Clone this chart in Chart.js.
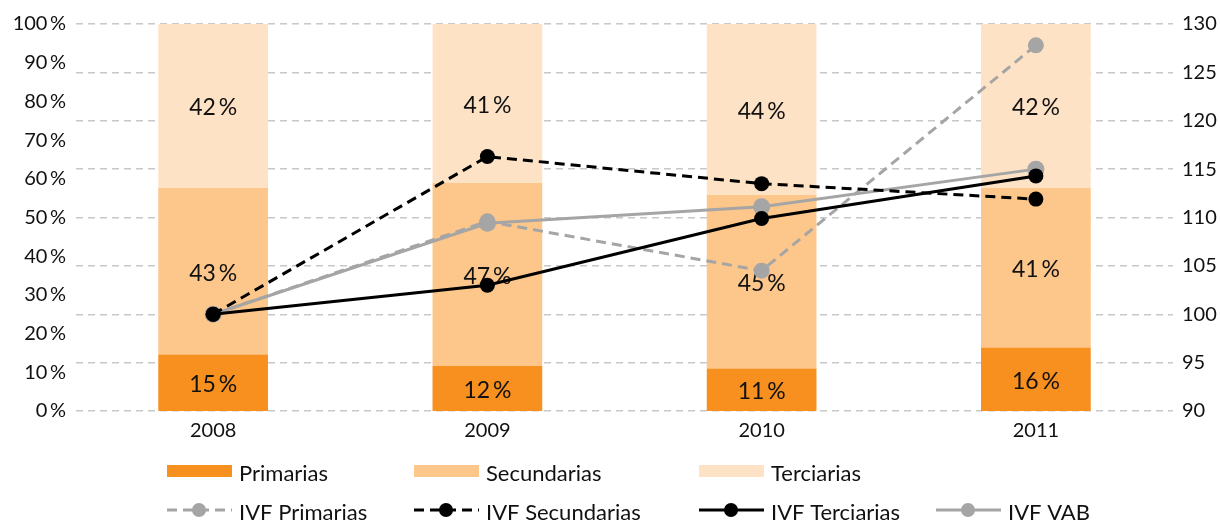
<!DOCTYPE html>
<html>
<head>
<meta charset="utf-8">
<script src="https://cdn.jsdelivr.net/npm/chart.js@4/dist/chart.umd.min.js"></script>
<style>
  html, body { margin: 0; padding: 0; background: #fff; }
  #wrap { width: 1220px; height: 526px; position: relative; }
</style>
</head>
<body>
<div id="wrap"><canvas id="grafico"></canvas></div>
<script>
// datos
const years = ['2008', '2009', '2010', '2011'];
const primarias = [14.6, 11.6, 11.0, 16.4];
const secundarias = [43.0, 47.3, 44.8, 41.2];
const terciarias = [42.4, 41.1, 44.2, 42.4];

const ivfPrimarias = [100, 109.6, 104.5, 127.8];
const ivfSecundarias = [100, 116.3, 113.5, 111.9];
const ivfTerciarias = [100, 103.0, 109.9, 114.3];
const ivfVab = [100, 109.4, 111.1, 115.0];

const pctMin = 0, pctMax = 100, pctStep = 10;
const ivfMin = 90, ivfMax = 130, ivfStep = 5;

const FONT = 'Lato, "Noto Sans", sans-serif';
const TEXT = '#111';
const GREY = '#a5a5a5';

// etiquetas de porcentaje dentro de las barras (debajo de las líneas)
let etiquetasHechas = false;
const etiquetasBarras = {
  id: 'etiquetasBarras',
  beforeDatasetsDraw() { etiquetasHechas = false; },
  beforeDatasetDraw(chart, args) {
    if (etiquetasHechas || chart.data.datasets[args.index].type !== 'line') return;
    etiquetasHechas = true;
    const ctx = chart.ctx;
    ctx.save();
    ctx.font = '23px ' + FONT;
    ctx.fillStyle = TEXT;
    ctx.textAlign = 'center';
    ctx.textBaseline = 'middle';
    chart.data.datasets.forEach((ds, i) => {
      if (ds.type !== 'bar') return;
      chart.getDatasetMeta(i).data.forEach((bar, j) => {
        const p = bar.getProps(['x', 'y', 'base'], true);
        ctx.fillText(Math.round(ds.data[j]) + '\u2009%', p.x, (p.y + p.base) / 2 + 2);
      });
    });
    ctx.restore();
  }
};

// leyenda dibujada en el canvas
const leyenda = {
  id: 'leyenda',
  afterDraw(chart) {
    const ctx = chart.ctx;
    const cols = [167, 414, 699, 936];
    const filas = [471, 510];
    const items = [
      [0, 0, 0], [1, 0, 1], [2, 0, 2],
      [3, 1, 0], [4, 1, 1], [5, 1, 2], [6, 1, 3]
    ];
    ctx.save();
    ctx.font = '22px ' + FONT;
    ctx.textBaseline = 'middle';
    items.forEach(([idx, fila, col]) => {
      const ds = chart.data.datasets[idx];
      const x = cols[col], y = filas[fila];
      if (ds.type === 'bar') {
        ctx.fillStyle = ds.backgroundColor;
        ctx.fillRect(x, y - 6, 65, 12);
      } else {
        ctx.strokeStyle = ds.borderColor;
        ctx.lineWidth = ds.borderWidth;
        ctx.setLineDash(ds.borderDash || []);
        ctx.beginPath();
        ctx.moveTo(x, y);
        ctx.lineTo(x + 65, y);
        ctx.stroke();
        ctx.setLineDash([]);
        ctx.fillStyle = ds.pointBackgroundColor;
        ctx.beginPath();
        ctx.arc(x + 32, y, 7, 0, Math.PI * 2);
        ctx.fill();
      }
      ctx.fillStyle = TEXT;
      ctx.fillText(ds.label, x + 72, y + 3);
    });
    ctx.restore();
  }
};

function lineaIVF(label, data, color, dash, order, radius) {
  return {
    type: 'line',
    label: label,
    data: data,
    yAxisID: 'y1',
    borderColor: color,
    borderWidth: 3,
    borderDash: dash,
    pointRadius: radius,
    pointBackgroundColor: color,
    pointBorderWidth: 0,
    tension: 0,
    order: order
  };
}

new Chart(document.getElementById('grafico'), {
  data: {
    labels: years,
    datasets: [
      { type: 'bar', label: 'Primarias', data: primarias, backgroundColor: '#f7901e', stack: 's', order: 5 },
      { type: 'bar', label: 'Secundarias', data: secundarias, backgroundColor: '#fdc68a', stack: 's', order: 6 },
      { type: 'bar', label: 'Terciarias', data: terciarias, backgroundColor: '#fee2c5', stack: 's', order: 7 },
      lineaIVF('IVF Primarias', ivfPrimarias, GREY, [10, 6], 4, 8),
      lineaIVF('IVF Secundarias', ivfSecundarias, '#000', [10, 6], 2, 7.5),
      lineaIVF('IVF Terciarias', ivfTerciarias, '#000', [], 1, 7.5),
      lineaIVF('IVF VAB', ivfVab, GREY, [], 3, 8.5)
    ]
  },
  options: {
    responsive: true,
    maintainAspectRatio: false,
    animation: false,
    datasets: { bar: { categoryPercentage: 1, barPercentage: 0.4 } },
    layout: { padding: { top: 24, left: 0, right: 0, bottom: 0 } },
    plugins: { legend: { display: false }, tooltip: { enabled: false } },
    scales: {
      x: {
        stacked: true,
        grid: { display: false, drawTicks: false },
        border: { display: false },
        ticks: { color: TEXT, font: { family: FONT, size: 20 }, padding: 8 },
        afterFit(s) { s.height = 115; }
      },
      y: {
        stacked: true,
        position: 'left',
        min: pctMin, max: pctMax,
        grid: { display: false, drawTicks: false },
        border: { display: false },
        ticks: {
          stepSize: pctStep,
          color: TEXT,
          font: { family: FONT, size: 20 },
          padding: 10,
          callback: v => v + '\u2009%'
        },
        afterFit(s) { s.width = 76; }
      },
      y1: {
        position: 'right',
        min: ivfMin, max: ivfMax,
        grid: { color: '#c8c8c8', lineWidth: 1.5, drawTicks: false },
        border: { display: false, dash: [7, 5] },
        ticks: {
          stepSize: ivfStep,
          color: TEXT,
          font: { family: FONT, size: 20 },
          padding: 9,
          align: 'center'
        },
        afterFit(s) { s.width = 47; }
      }
    }
  },
  plugins: [etiquetasBarras, leyenda]
});
</script>
</body>
</html>
